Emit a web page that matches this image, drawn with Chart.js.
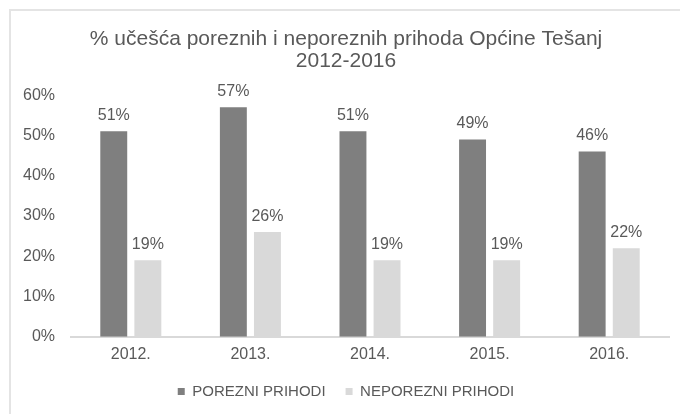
<!DOCTYPE html>
<html lang="bs">
<head>
  <meta charset="UTF-8">
  <title>% učešća poreznih i neporeznih prihoda Općine Tešanj 2012-2016</title>
  <script src="https://cdn.jsdelivr.net/npm/chart.js@4.4.1/dist/chart.umd.min.js"></script>
  <style>
    body {
      margin: 0;
      background: #ffffff;
      font-family: "Liberation Sans", Arial, sans-serif;
    }
    #wrap {
      position: relative;
      width: 680px;
      height: 414px;
      overflow: hidden;
    }
    #frame {
      position: absolute;
      left: 9px;
      top: 9px;
      width: 700px;
      height: 440px;
      border-left: 2px solid #e4e4e4;
      border-top: 2px solid #e4e4e4;
    }
    #chart {
      position: absolute;
      left: 0;
      top: 0;
    }
  </style>
</head>
<body>

  <div id="wrap">
    <div id="frame"></div>
    <canvas id="chart" width="680" height="414"></canvas>
  </div>

  <script>
    // Données
    const years = ['2012.', '2013.', '2014.', '2015.', '2016.'];
    const porezni = [51, 57, 51, 49, 46];
    const neporezni = [19, 26, 19, 19, 22];
    const yMax = 60;
    const yStep = 10;

    const textColor = '#595959';
    const fontFamily = '"Liberation Sans", Arial, sans-serif';

    // Étiquettes de valeur au-dessus des barres
    const valueLabels = {
      id: 'valueLabels',
      afterDatasetsDraw(chart) {
        const ctx = chart.ctx;
        ctx.save();
        ctx.fillStyle = textColor;
        ctx.font = '16px ' + fontFamily;
        ctx.textAlign = 'center';
        ctx.textBaseline = 'alphabetic';
        chart.data.datasets.forEach((ds, i) => {
          chart.getDatasetMeta(i).data.forEach((bar, j) => {
            ctx.fillText(ds.data[j] + '%', bar.x, bar.y - 11);
          });
        });
        ctx.restore();
      }
    };

    const ctx = document.getElementById('chart').getContext('2d');
    new Chart(ctx, {
      type: 'bar',
      data: {
        labels: years,
        datasets: [
          {
            label: 'POREZNI PRIHODI',
            data: porezni,
            backgroundColor: '#7f7f7f',
            categoryPercentage: 0.57,
            barPercentage: 0.79
          },
          {
            label: 'NEPOREZNI PRIHODI',
            data: neporezni,
            backgroundColor: '#d9d9d9',
            categoryPercentage: 0.57,
            barPercentage: 0.79
          }
        ]
      },
      options: {
        responsive: false,
        animation: false,
        layout: { padding: { left: 23, right: 11, top: 10, bottom: 5 } },
        plugins: {
          title: {
            display: true,
            text: ['% učešća poreznih i neporeznih prihoda Općine Tešanj', '2012-2016'],
            color: textColor,
            font: { family: fontFamily, size: 21, weight: 'normal', lineHeight: 1.05 },
            padding: { top: 18, bottom: 23 }
          },
          legend: {
            position: 'bottom',
            labels: {
              color: textColor,
              font: { family: fontFamily, size: 15 },
              boxWidth: 7,
              boxHeight: 7,
              padding: 20
            }
          },
          tooltip: { enabled: false }
        },
        scales: {
          x: {
            grid: { display: false },
            border: { color: '#d9d9d9', width: 2 },
            ticks: { color: textColor, font: { family: fontFamily, size: 16 }, padding: 0 }
          },
          y: {
            min: 0,
            max: yMax,
            grid: { display: false, drawTicks: false },
            border: { display: false },
            afterFit(scale) { scale.width = 48; },
            ticks: {
              stepSize: yStep,
              color: textColor,
              font: { family: fontFamily, size: 16 },
              padding: 16,
              callback: v => v + '%'
            }
          }
        }
      },
      plugins: [valueLabels]
    });
  </script>

</body>
</html>
